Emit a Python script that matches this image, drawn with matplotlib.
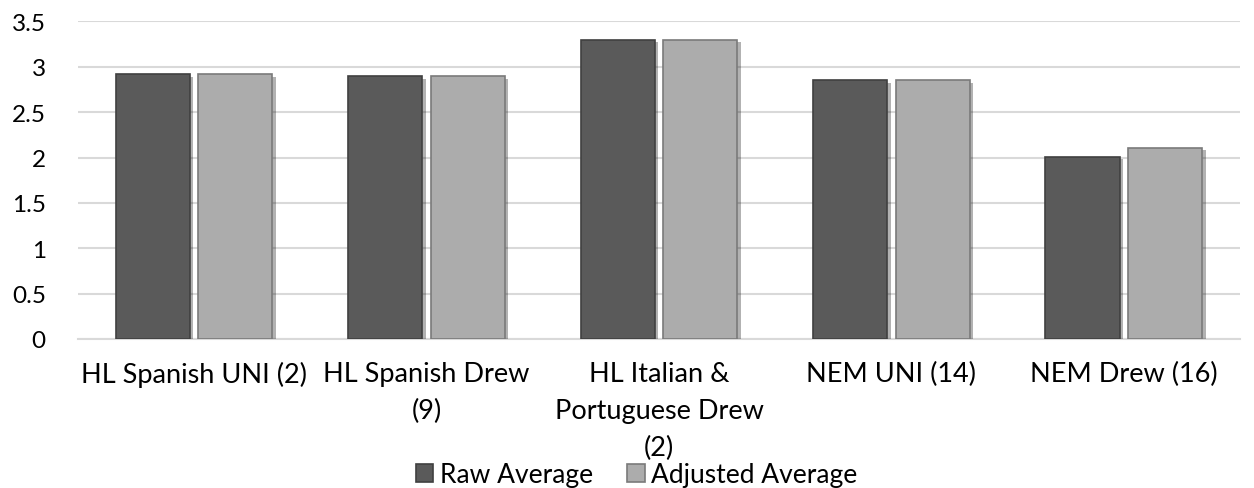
import numpy as np
import matplotlib.pyplot as plt
import matplotlib.patheffects as pe

plt.rcParams['font.family'] = ['Lato', 'DejaVu Sans']

categories = ["HL Spanish UNI (2)", "HL Spanish Drew\n(9)", "HL Italian &\nPortuguese Drew\n(2)",
              "NEM UNI (14)", "NEM Drew (16)"]
raw_avg = [2.92, 2.90, 3.30, 2.85, 2.01]
adj_avg = [2.92, 2.90, 3.30, 2.85, 2.11]

fig = plt.figure(figsize=(12.54, 4.89), dpi=100)
ax = fig.add_axes([0.062, 0.305, 0.927, 0.649])

x = np.arange(len(categories))
w = 0.32
gap = 0.035
shadow = [pe.SimplePatchShadow(offset=(2.5, -2), shadow_rgbFace='#000000', alpha=0.3), pe.Normal()]
b1 = ax.bar(x - (w + gap) / 2, raw_avg, w, color='#5a5a5a', edgecolor='#404040', linewidth=1.2,
            label='Raw Average', zorder=3)
b2 = ax.bar(x + (w + gap) / 2, adj_avg, w, color='#acacac', edgecolor='#7a7a7a', linewidth=1.2,
            label='Adjusted Average', zorder=3)
for bar in list(b1) + list(b2):
    bar.set_path_effects(shadow)

ax.set_xlim(-0.5, len(categories) - 0.5)
ax.set_ylim(0, 3.5)
ax.set_yticks(np.arange(0, 3.51, 0.5))
ax.set_yticklabels(['0', '0.5', '1', '1.5', '2', '2.5', '3', '3.5'])
ax.yaxis.grid(True, color='#d9d9d9', linewidth=1.5, zorder=0)
ax.set_axisbelow(True)
for s in ['top', 'right', 'left']:
    ax.spines[s].set_visible(False)
ax.spines['bottom'].set_color('#d9d9d9')
ax.spines['bottom'].set_linewidth(1.5)
ax.tick_params(axis='both', length=0, colors='black')
ax.tick_params(axis='y', pad=23, labelsize=17.5)
ax.tick_params(axis='x', pad=16, labelsize=19.5)
ax.set_xticks(x)
ax.set_xticklabels(categories, linespacing=1.6)

leg = ax.legend(loc='center', bbox_to_anchor=(0.481, -0.428), ncol=2, frameon=False, fontsize=19,
                handlelength=0.65, handleheight=0.65, handletextpad=0.25, columnspacing=1.3)
for h in leg.legend_handles:
    h.set_path_effects([])

fig.savefig('out.png', dpi=100)
